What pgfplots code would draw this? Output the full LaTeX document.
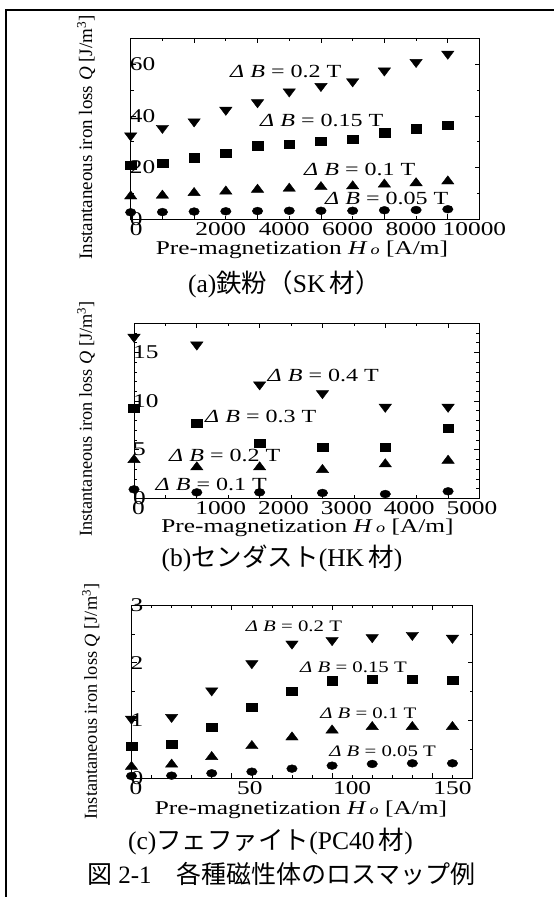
\documentclass[border=0pt]{standalone}
\usepackage{fontspec}
\usepackage{pgfplots}
\pgfplotsset{compat=1.18}
\setmainfont{Liberation Serif}
\newfontfamily\st[FakeStretch=1.3]{Liberation Serif}
\newfontfamily\jp{Noto Sans CJK JP}

\pgfplotsset{
  lm/.style={
    scale only axis, clip=false, anchor=north west,
    scaled x ticks=false, scaled y ticks=false,
    axis line style={line width=0.8pt},
    tick align=inside, tick pos=both,
    major tick length=5pt, minor tick length=3pt,
    tick style={black, line width=0.7pt},
    tick label style={font=\st\fontsize{19.5}{19.5}\selectfont},
    xticklabels={},
    xticklabel style={anchor=north, inner sep=0pt, yshift=-3.5pt},
    yticklabel style={anchor=west, inner sep=0pt, xshift=-1pt},
    extra x tick style={major tick length=0pt},
    xlabel style={font=\st\fontsize{19.5}{19.5}\selectfont, anchor=center},
    ylabel style={font=\fontsize{19}{19}\selectfont, anchor=center},
    xlabel={Pre-magnetization \textit{H}\,{\fontsize{14}{14}\selectfont\itshape o} [A/m]},
    ylabel={Instantaneous iron loss \textit{Q} [J/m\textsuperscript{3}]},
  },
  sC/.style={only marks, mark=*, mark size=3.9pt, mark options={xscale=1.35, fill=black, draw=black}},
  sS/.style={only marks, mark=square*, mark size=4.1pt, mark options={xscale=1.3, fill=black, draw=black}},
  sU/.style={only marks, mark=triangle*, mark size=5.5pt, mark options={xscale=1.3, fill=black, draw=black}},
  sD/.style={only marks, mark=triangle*, mark size=5.5pt, mark options={rotate=180, xscale=1.3, fill=black, draw=black}},
}
\tikzset{anA/.style={anchor=west, inner sep=0pt, font=\st\fontsize{18.5}{18.5}\selectfont},
         anC/.style={anchor=west, inner sep=0pt, font=\st\fontsize{16}{16}\selectfont},
         subcap/.style={font=\fontsize{25.5}{25.5}\selectfont}}

\begin{document}
\begin{tikzpicture}
\path[use as bounding box] (0,0) rectangle (554pt,-897pt);
\draw[line width=2.2pt] (5.8pt,-897pt) -- (5.8pt,-10.3pt) -- (554pt,-10.3pt);

% ---------------- (a) ----------------
\begin{axis}[lm, at={(130.7pt,-38.3pt)}, width=348.8pt, height=181pt,
  xmin=0, xmax=11000, ymin=0, ymax=70,
  xtick={0,2000,4000,6000,8000,10000}, minor xtick={1000,3000,5000,7000,9000},
  extra x ticks={170,2840,4840,6840,8840,10840},
  extra x tick labels={0,2000,4000,6000,8000,10000},
  ytick={0,20,40,60}, yticklabels={0,20,40,60}, minor ytick={10,30,50},
  xlabel style={at={(axis description cs:0.491,-0.17)}},
  ylabel style={at={(axis description cs:-0.128,0.452)}},
]
\addplot[sD] coordinates {(0,32.4) (1000,35.3) (2000,37.8) (3000,42.3) (4000,45.2) (5000,49.4) (6000,51.5) (7000,53.3) (8000,57.5) (9000,60.8) (10000,64.0)};
\addplot[sS] coordinates {(0,21.0) (1000,21.6) (2000,23.8) (3000,25.5) (4000,28.5) (5000,29.1) (6000,30.1) (7000,30.9) (8000,33.5) (9000,35.0) (10000,36.4)};
\addplot[sU] coordinates {(0,8.9) (1000,9.2) (2000,10.2) (3000,10.8) (4000,11.5) (5000,11.9) (6000,12.5) (7000,12.8) (8000,13.5) (9000,14.0) (10000,14.7)};
\addplot[sC] coordinates {(0,2.7) (1000,2.8) (2000,3.0) (3000,3.1) (4000,3.2) (5000,3.3) (6000,3.3) (7000,3.3) (8000,3.5) (9000,3.6) (10000,3.9)};
\node[anA] at (axis cs:3131,57.0) {\textit{Δ B} = 0.2 T};
\node[anA] at (axis cs:4078,38.1) {\textit{Δ B} = 0.15 T};
\node[anA] at (axis cs:5465,19.1) {\textit{Δ B} = 0.1 T};
\node[anA] at (axis cs:6127,7.9) {\textit{Δ B} = 0.05 T};
\end{axis}
\node[subcap] at (284.5pt,-284pt) {(a){\jp 鉄粉（}SK\,{\jp 材）}};

% ---------------- (b) ----------------
\begin{axis}[lm, at={(134pt,-323.3pt)}, width=345.5pt, height=175pt,
  xmin=0, xmax=5500, ymin=0, ymax=18,
  xtick={0,1000,2000,3000,4000,5000}, minor xtick={500,1500,2500,3500,4500},
  extra x ticks={70,1380,2380,3380,4380,5380},
  extra x tick labels={0,1000,2000,3000,4000,5000},
  ytick={0,5,10,15}, yticklabels={0,5,10,15}, minor ytick={1,2,3,4,6,7,8,9,11,12,13,14,16,17},
  xlabel style={at={(axis description cs:0.502,-0.17)}},
  ylabel style={at={(axis description cs:-0.139,0.453)}, font=\fontsize{18.3}{18.3}\selectfont},
]
\addplot[sD] coordinates {(0,16.6) (1000,15.8) (2000,11.7) (3000,10.8) (4000,9.4) (5000,9.4)};
\addplot[sS] coordinates {(0,9.3) (1000,7.74) (2000,5.63) (3000,5.22) (4000,5.22) (5000,7.23)};
\addplot[sU] coordinates {(0,3.95) (1000,3.2) (2000,3.2) (3000,2.93) (4000,3.51) (5000,3.88)};
\addplot[sC] coordinates {(0,0.92) (1000,0.61) (2000,0.61) (3000,0.55) (4000,0.44) (5000,0.72)};
\node[anA] at (axis cs:2125,12.6) {\textit{Δ B} = 0.4 T};
\node[anA] at (axis cs:1130,8.4) {\textit{Δ B} = 0.3 T};
\node[anA] at (axis cs:557,4.43) {\textit{Δ B} = 0.2 T};
\node[anA] at (axis cs:342,1.47) {\textit{Δ B} = 0.1 T};
\end{axis}
\node[subcap] at (282pt,-558.5pt) {(b){\jp センダスト}(HK\,{\jp 材})};

% ---------------- (c) ----------------
\begin{axis}[lm, at={(131.5pt,-605pt)}, width=341pt, height=173.3pt,
  xmin=0, xmax=170, ymin=0, ymax=3,
  xtick={0,50,100,150}, minor xtick={10,20,30,40,60,70,80,90,110,120,130,140,160},
  extra x ticks={2.2,59,110,160},
  extra x tick labels={0,50,100,150},
  ytick={0,1,2,3}, yticklabels={0,1,2,3}, minor ytick={0.5,1.5,2.5},
  xlabel style={at={(axis description cs:0.497,-0.183)}},
  ylabel style={at={(axis description cs:-0.119,0.443)}, font=\fontsize{18.3}{18.3}\selectfont},
]
\addplot[sD] coordinates {(0,1.03) (20,1.06) (40,1.52) (60,1.99) (80,2.33) (100,2.39) (120,2.44) (140,2.48) (160,2.43)};
\addplot[sS] coordinates {(0,0.56) (20,0.59) (40,0.88) (60,1.23) (80,1.51) (100,1.69) (120,1.71) (140,1.71) (160,1.70)};
\addplot[sU] coordinates {(0,0.20) (20,0.24) (40,0.37) (60,0.56) (80,0.71) (100,0.83) (120,0.89) (140,0.89) (160,0.89)};
\addplot[sC] coordinates {(0,0.04) (20,0.046) (40,0.087) (60,0.115) (80,0.167) (100,0.219) (120,0.248) (140,0.26) (160,0.26)};
\node[anC] at (axis cs:56.9,2.64) {\textit{Δ B} = 0.2 T};
\node[anC] at (axis cs:84,1.92) {\textit{Δ B} = 0.15 T};
\node[anC] at (axis cs:94,1.125) {\textit{Δ B} = 0.1 T};
\node[anC] at (axis cs:98.5,0.473) {\textit{Δ B} = 0.05 T};
\end{axis}
\node[subcap] at (270.5pt,-841pt) {(c){\jp フェファイト}(PC40\,{\jp 材})};
\node[font=\fontsize{25}{25}\selectfont] at (281.5pt,-874pt) {{\jp 図} 2-1{\jp 　各種磁性体のロスマップ例}};
\end{tikzpicture}
\end{document}
